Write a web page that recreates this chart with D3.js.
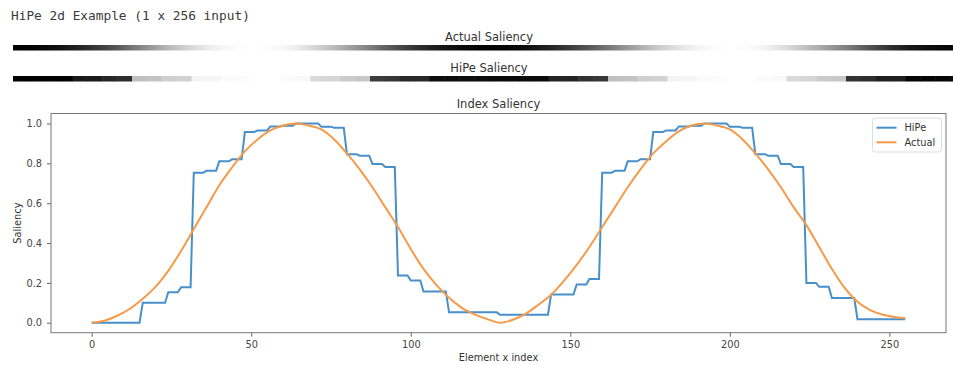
<!DOCTYPE html>
<html>
<head>
<meta charset="utf-8">
<script src="https://cdn.jsdelivr.net/npm/d3@7"></script>
<style>
  body { margin: 0; background: #fff; }
  text { font-family: "DejaVu Sans", sans-serif; fill: #333; }
</style>
</head>
<body>
<svg id="chart" width="953" height="365"></svg>
<script>
// actual saliency, read every 4th element (last one is element 255)
const actualIdx = [0, 4, 8, 12, 16, 20, 24, 28, 32, 36, 40, 44, 48, 52, 56, 60,
    64, 68, 72, 76, 80, 84, 88, 92, 96, 100, 104, 108, 112, 116, 120, 124,
    128, 132, 136, 140, 144, 148, 152, 156, 160, 164, 168, 172, 176, 180, 184, 188,
    192, 196, 200, 204, 208, 212, 216, 220, 224, 228, 232, 236, 240, 244, 248, 252, 255];
const actualVals = [0.0, 0.01, 0.035, 0.07, 0.12, 0.18, 0.26, 0.36, 0.47, 0.58, 0.69, 0.78, 0.86, 0.92, 0.965, 0.99,
    1.0, 0.99, 0.97, 0.92, 0.85, 0.77, 0.68, 0.58, 0.48, 0.37, 0.27, 0.19, 0.125, 0.075, 0.042, 0.018,
    0.0, 0.015, 0.045, 0.09, 0.14, 0.21, 0.29, 0.38, 0.48, 0.58, 0.68, 0.77, 0.85, 0.91, 0.96, 0.99,
    1.0, 0.99, 0.97, 0.92, 0.85, 0.77, 0.68, 0.58, 0.49, 0.38, 0.27, 0.175, 0.105, 0.063, 0.04, 0.028, 0.022];

// HiPe saliency, one value per block of 4 elements (64 blocks)
const hipeBlocks = [
    0, 0, 0, 0, 0.10, 0.10, 0.153, 0.178,
    0.753, 0.763, 0.81, 0.82, 0.957, 0.965, 0.985, 0.988,
    1.0, 1.0, 0.983, 0.978, 0.846, 0.838, 0.796, 0.781,
    0.237, 0.212, 0.157, 0.157, 0.052, 0.052, 0.052, 0.052,
    0.04, 0.04, 0.04, 0.04, 0.142, 0.142, 0.192, 0.219,
    0.753, 0.763, 0.81, 0.821, 0.957, 0.965, 0.985, 0.988,
    1.0, 1.0, 0.983, 0.978, 0.846, 0.838, 0.796, 0.781,
    0.2, 0.18, 0.124, 0.124, 0.018, 0.018, 0.018, 0.018];
const blockSize = 4;
const nElements = 256;

const xTicks = [0, 50, 100, 150, 200, 250];
const yTicks = [0, 0.2, 0.4, 0.6, 0.8, 1.0];
const seriesNames = ["HiPe", "Actual"];
const blue = "#4790c9", orange = "#f69a48";

const svg = d3.select("#chart");
svg.append("rect").attr("width", 953).attr("height", 365).attr("fill", "#fff");

svg.append("text")
    .attr("x", 11).attr("y", 20)
    .style("font-family", "'DejaVu Sans Mono', monospace")
    .style("font-size", "12.8px")
    .style("fill", "#3a3a3a")
    .text("HiPe 2d Example (1 x 256 input)");

// the two 1 x 256 strips
var stripX = d3.scaleLinear().domain([0, nElements]).range([13, 965]);
var grey = d3.scaleLinear().domain([0, 1]).range(["#000", "#fff"]);

var grad = svg.append("defs").append("linearGradient")
    .attr("id", "actualGrad")
    .attr("gradientUnits", "userSpaceOnUse")
    .attr("x1", stripX(0)).attr("x2", stripX(nElements))
    .attr("y1", 0).attr("y2", 0);
grad.selectAll("stop")
    .data(actualIdx)
    .enter().append("stop")
    .attr("offset", d => (d + 0.5) / nElements)
    .attr("stop-color", (d, i) => grey(actualVals[i]));

svg.append("text")
    .attr("x", 489).attr("y", 40.5)
    .attr("text-anchor", "middle")
    .style("font-size", "11.5px")
    .text("Actual Saliency");
svg.append("rect")
    .attr("x", stripX(0)).attr("y", 45)
    .attr("width", stripX(nElements) - stripX(0)).attr("height", 5.5)
    .attr("fill", "url(#actualGrad)");

svg.append("text")
    .attr("x", 489).attr("y", 71.5)
    .attr("text-anchor", "middle")
    .style("font-size", "11.5px")
    .text("HiPe Saliency");
svg.selectAll(".hipe-cell")
    .data(hipeBlocks)
    .enter().append("rect")
    .attr("class", "hipe-cell")
    .attr("x", (d, i) => stripX(i * blockSize))
    .attr("y", 76)
    .attr("width", stripX(blockSize) - stripX(0) + 0.5)
    .attr("height", 5.5)
    .attr("fill", d => grey(d));

// main line chart
const plot = { left: 51, right: 946, top: 113.5, bottom: 332.7 };
var x = d3.scaleLinear().domain([-12.75, 267.75]).range([plot.left, plot.right]);
var y = d3.scaleLinear().domain([-0.05, 1.05]).range([plot.bottom, plot.top]);

svg.append("text")
    .attr("x", (plot.left + plot.right) / 2).attr("y", 108)
    .attr("text-anchor", "middle")
    .style("font-size", "11.5px")
    .text("Index Saliency");

var xAxis = svg.append("g")
    .attr("transform", "translate(0," + plot.bottom + ")")
    .call(d3.axisBottom(x).tickValues(xTicks).tickSize(4).tickPadding(4));
var yAxis = svg.append("g")
    .attr("transform", "translate(" + plot.left + ",0)")
    .call(d3.axisLeft(y).tickValues(yTicks).tickSize(4).tickPadding(5).tickFormat(d3.format(".1f")));
[xAxis, yAxis].forEach(a => {
    a.select(".domain").remove();
    a.selectAll("line").attr("stroke", "#666");
    a.selectAll("text")
        .style("font-family", "'DejaVu Sans', sans-serif")
        .style("font-size", "9.8px")
        .style("fill", "#444");
});

var hipeLine = d3.line()
    .x((d, i) => x(i))
    .y(d => y(d));
var hipeData = d3.range(nElements).map(i => hipeBlocks[Math.floor(i / blockSize)]);
svg.append("path")
    .datum(hipeData)
    .attr("d", hipeLine)
    .attr("fill", "none")
    .attr("stroke", blue)
    .attr("stroke-width", 2);

var actualLine = d3.line()
    .x((d, i) => x(actualIdx[i]))
    .y(d => y(d))
    .curve(d3.curveMonotoneX);
svg.append("path")
    .datum(actualVals)
    .attr("d", actualLine)
    .attr("fill", "none")
    .attr("stroke", orange)
    .attr("stroke-width", 2);

svg.append("rect")
    .attr("x", plot.left).attr("y", plot.top)
    .attr("width", plot.right - plot.left).attr("height", plot.bottom - plot.top)
    .attr("fill", "none")
    .attr("stroke", "#777")
    .attr("stroke-width", 1);

svg.append("text")
    .attr("x", (plot.left + plot.right) / 2).attr("y", 361)
    .attr("text-anchor", "middle")
    .style("font-size", "9.8px")
    .text("Element x index");
svg.append("text")
    .attr("transform", "translate(21," + (plot.top + plot.bottom) / 2 + ") rotate(-90)")
    .attr("text-anchor", "middle")
    .style("font-size", "9.8px")
    .text("Saliency");

// legend
var legend = svg.append("g").attr("transform", "translate(872.5,118)");
legend.append("rect")
    .attr("width", 69).attr("height", 34).attr("rx", 2.5)
    .attr("fill", "#fff").attr("fill-opacity", 0.8)
    .attr("stroke", "#ddd");
legend.selectAll(".leg")
    .data(seriesNames)
    .enter().append("g")
    .attr("transform", (d, i) => "translate(0," + (9.7 + i * 14.6) + ")")
    .each(function (d, i) {
        var g = d3.select(this);
        g.append("line")
            .attr("x1", 4).attr("x2", 24)
            .attr("stroke", i === 0 ? blue : orange)
            .attr("stroke-width", 2);
        g.append("text")
            .attr("x", 32).attr("dy", "0.35em")
            .style("font-size", "9.8px")
            .text(d);
    });
</script>
</body>
</html>
